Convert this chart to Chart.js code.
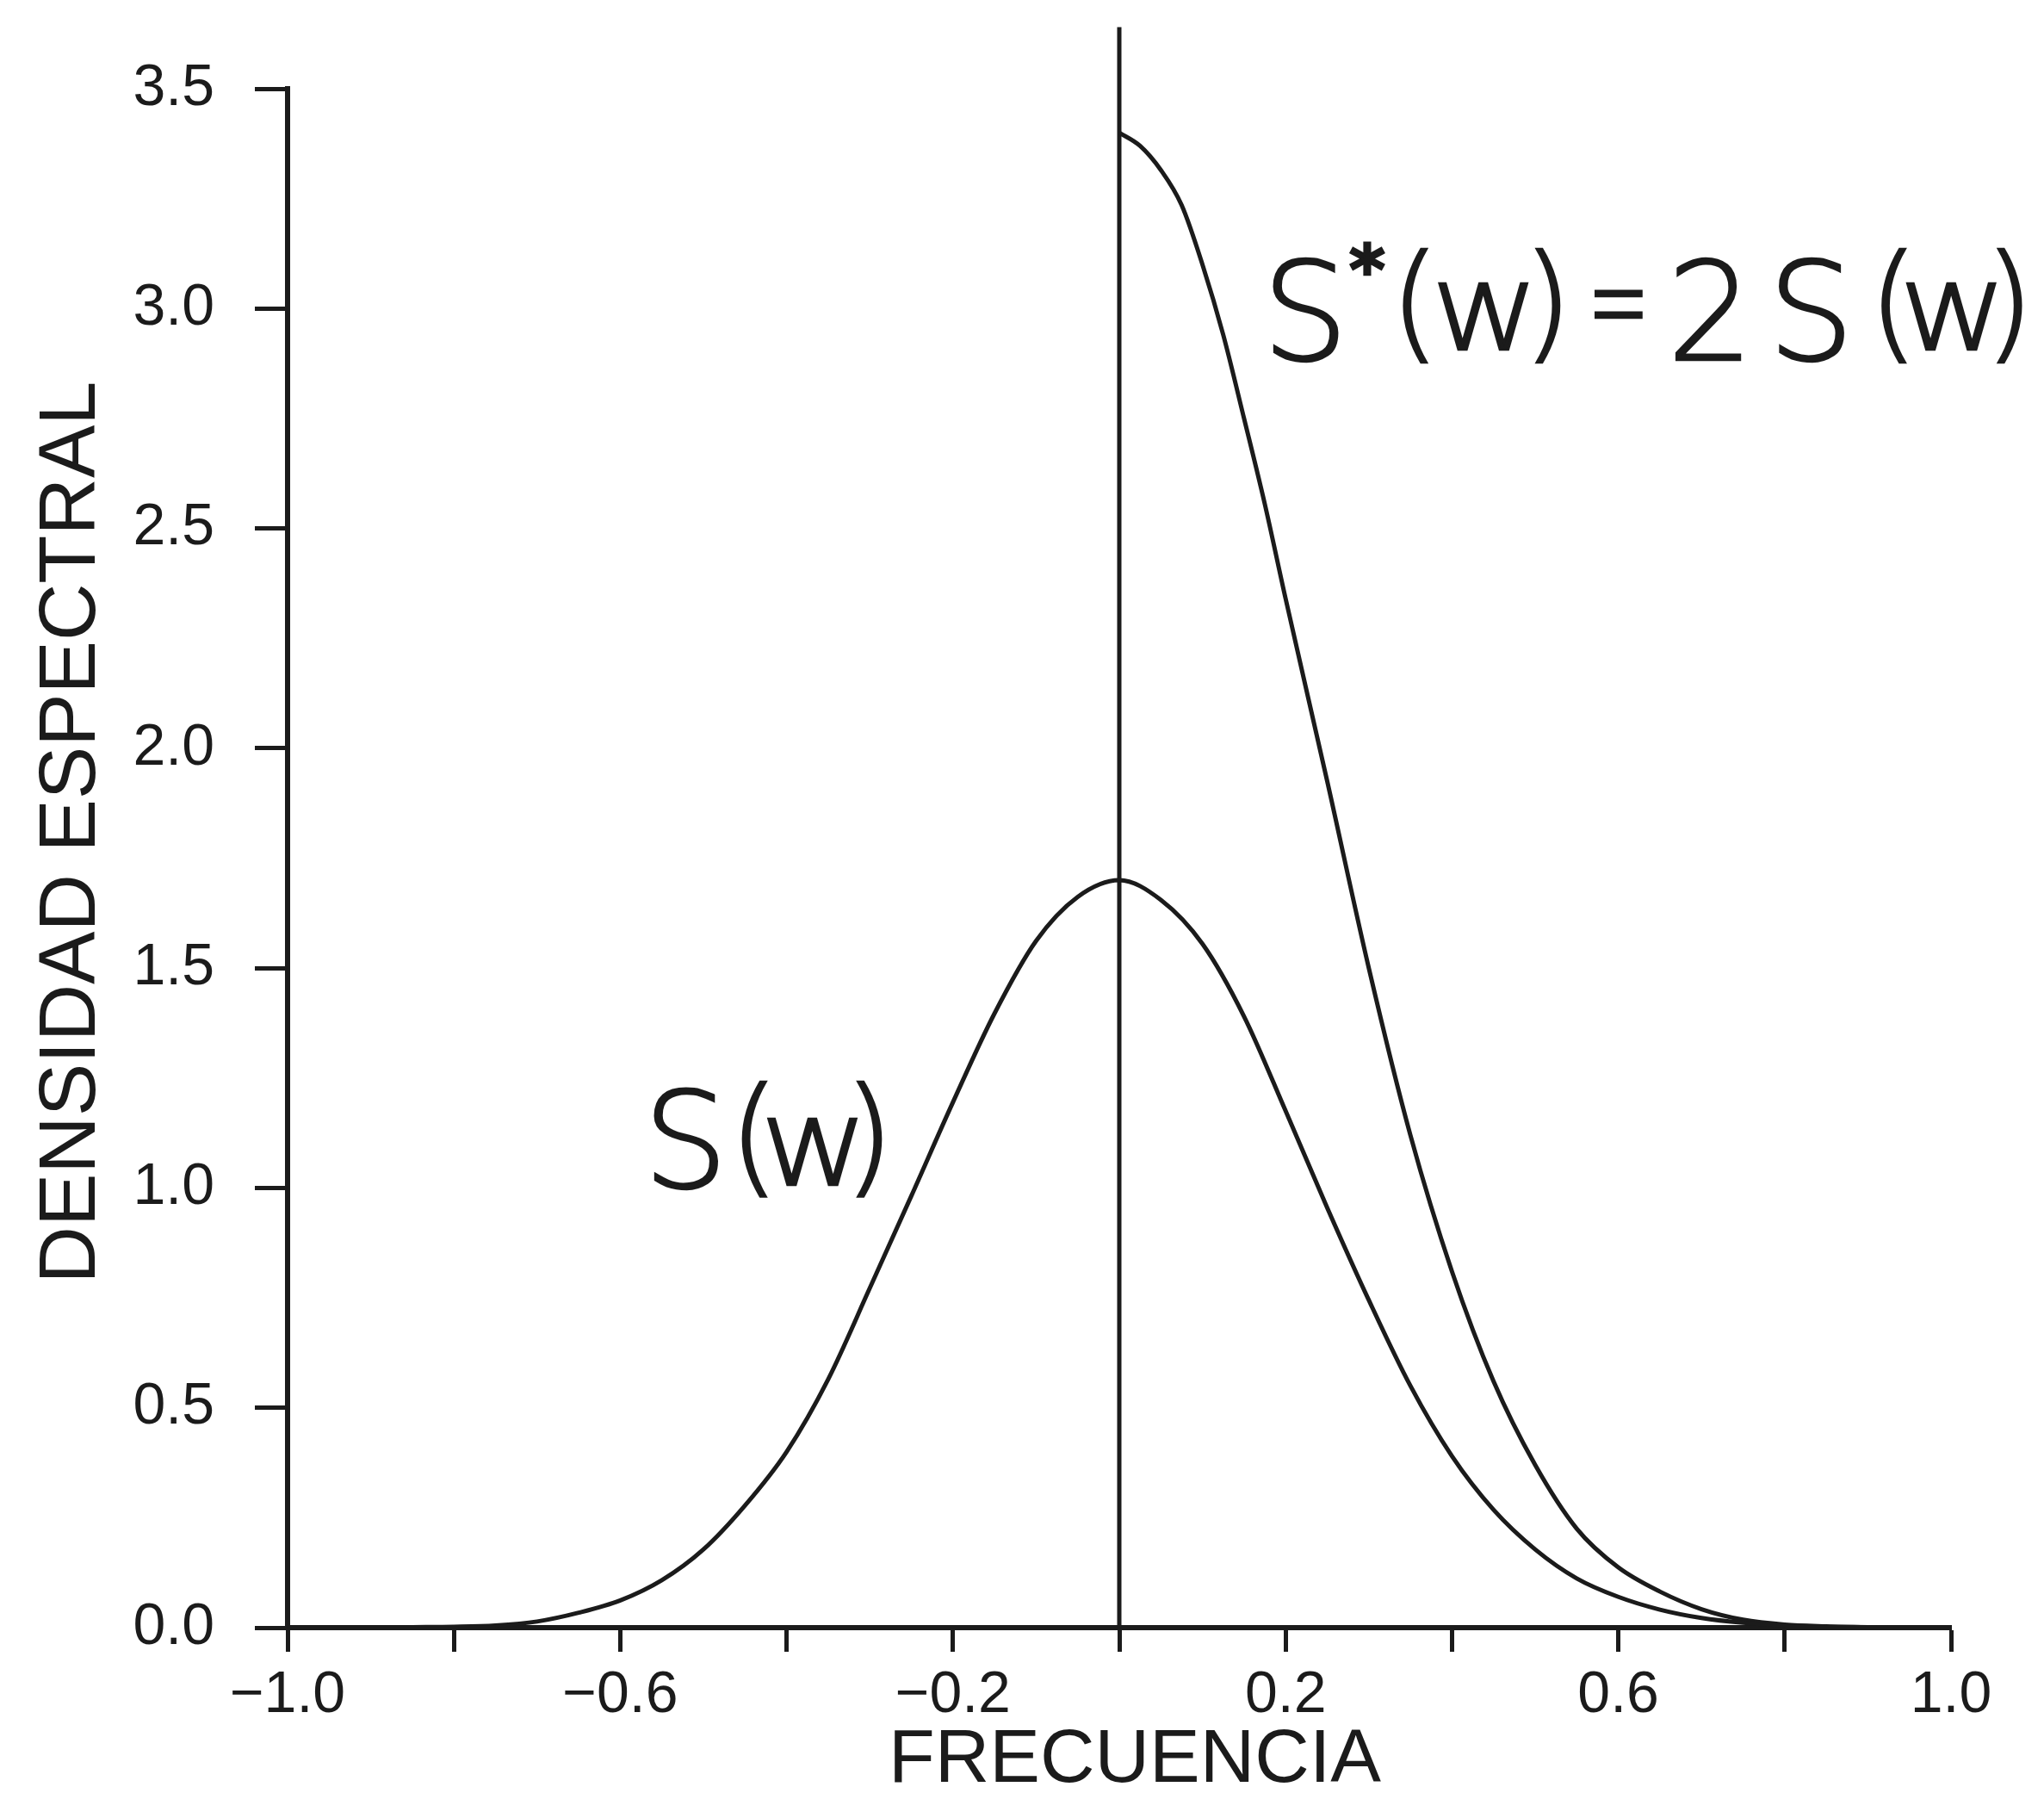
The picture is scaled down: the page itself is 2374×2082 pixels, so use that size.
<!DOCTYPE html>
<html>
<head>
<meta charset="utf-8">
<script src="https://cdn.jsdelivr.net/npm/chart.js@4.4.0/dist/chart.umd.min.js"></script>
<style>
  html, body { margin: 0; padding: 0; background: #fff; }
  canvas { display: block; }
</style>
</head>
<body>
<canvas id="spectrumChart" width="2374" height="2082"></canvas>
<script>
// S(w)
const freqS = [-1.00, -0.95, -0.90, -0.85, -0.80, -0.75, -0.70, -0.65, -0.60, -0.55,
               -0.50, -0.45, -0.40, -0.35, -0.30, -0.25, -0.20, -0.15, -0.10, -0.05,
                0.00,  0.05,  0.10,  0.15,  0.20,  0.25,  0.30,  0.35,  0.40,  0.45,
                0.50,  0.55,  0.60,  0.65,  0.70,  0.75,  0.80,  0.85,  0.90,  0.95, 1.00];
const densS = [0, 0, 0, 0.001, 0.002, 0.005, 0.014, 0.034, 0.062, 0.108,
               0.178, 0.278, 0.40, 0.565, 0.772, 0.982, 1.195, 1.397, 1.562, 1.662,
               1.70, 1.655, 1.555, 1.39, 1.175, 0.955, 0.745, 0.55, 0.39, 0.268,
               0.178, 0.112, 0.07, 0.041, 0.022, 0.011, 0.005, 0.002, 0.001, 0, 0];

// S*(w) = 2 S(w), only for w >= 0
const freqSStar = [0.00, 0.025, 0.05, 0.075, 0.10, 0.125, 0.15, 0.175, 0.20, 0.25, 0.30, 0.35,
                   0.40, 0.45, 0.50, 0.55, 0.60, 0.65, 0.70, 0.75, 0.80, 0.85, 0.90, 0.95, 1.00];
const densSStar = [3.40, 3.37, 3.315, 3.235, 3.10, 2.94, 2.75, 2.555, 2.34, 1.925, 1.50, 1.12,
                   0.81, 0.56, 0.37, 0.225, 0.137, 0.082, 0.042, 0.018, 0.007, 0.003, 0.001, 0, 0];

// vertical line at w = 0
const zeroFreq = [0, 0];
const zeroDens = [0, 3.64];

// axis labels
const xTickValues = [-1.0, -0.6, -0.2, 0.2, 0.6, 1.0];
const xTickLabels = ['\u22121.0', '\u22120.6', '\u22120.2', '0.2', '0.6', '1.0'];
const yTickLabels = ['0.0', '0.5', '1.0', '1.5', '2.0', '2.5', '3.0', '3.5'];
const xTitle = 'FRECUENCIA';
const yTitle = 'DENSIDAD ESPECTRAL';

// curve labels, anchored in data units (left edge of ink, baseline)
const labelS = { w: -0.559, d: 1.0 };
const labelSStar = { w: 0.186, d: 2.883 };

const toPoints = (xs, ys) => xs.map((x, i) => ({ x: x, y: ys[i] }));

const ink = '#1b1b1b';
const sansFamily = '"Liberation Sans", Arial, sans-serif';
const tickFont = { family: sansFamily, size: 68 };

// hand-lettered look: each glyph placed by its ink box, gaps shared out to fit a width
function drawLettering(ctx, glyphs, left, baseline, targetWidth) {
    let inkTotal = 0;
    let gapUnits = 0;
    glyphs.forEach((g, i) => {
        ctx.font = `${g.weight || 200} ${g.size}px "DejaVu Sans", sans-serif`;
        const m = ctx.measureText(g.text);
        g.inkLeft = m.actualBoundingBoxLeft;
        g.inkW = (m.actualBoundingBoxLeft + m.actualBoundingBoxRight) * (g.sx || 1);
        inkTotal += g.inkW;
        if (i > 0) gapUnits += g.gap;
    });
    const unit = gapUnits > 0 ? (targetWidth - inkTotal) / gapUnits : 0;
    let cx = left;
    glyphs.forEach((g, i) => {
        if (i > 0) cx += unit * g.gap;
        ctx.save();
        ctx.translate(cx, baseline - (g.rise || 0));
        ctx.scale(g.sx || 1, 1);
        ctx.font = `${g.weight || 200} ${g.size}px "DejaVu Sans", sans-serif`;
        ctx.fillText(g.text, g.inkLeft, 0);
        ctx.lineWidth = 2.5;
        ctx.strokeText(g.text, g.inkLeft, 0);
        ctx.restore();
        cx += g.inkW;
    });
}

const curveLabels = {
    id: 'curveLabels',
    afterDatasetsDraw(chart) {
        const { ctx, scales: { x, y } } = chart;
        ctx.save();
        ctx.fillStyle = ink;
        ctx.strokeStyle = ink;
        ctx.textBaseline = 'alphabetic';
        ctx.textAlign = 'left';

        drawLettering(ctx, [
            { text: 'S', size: 155 },
            { text: '(', size: 150, rise: 9, gap: 29 },
            { text: 'w', size: 140, rise: 3, sx: 1.1, gap: 1 },
            { text: ')', size: 150, rise: 9, gap: 1 }
        ], x.getPixelForValue(labelS.w), y.getPixelForValue(labelS.d), 264);

        drawLettering(ctx, [
            { text: 'S', size: 158 },
            { text: '*', size: 80, weight: 700, rise: 77, gap: 14 },
            { text: '(', size: 148, rise: 16, gap: 22 },
            { text: 'w', size: 140, rise: 12, sx: 1.1, gap: 13 },
            { text: ')', size: 148, rise: 16, gap: 10 },
            { text: '=', size: 158, rise: 15, sx: 0.55, gap: 40 },
            { text: '2', size: 158, gap: 38 },
            { text: 'S', size: 158, gap: 45 },
            { text: '(', size: 148, rise: 16, gap: 44 },
            { text: 'w', size: 140, rise: 12, sx: 1.1, gap: 1 },
            { text: ')', size: 148, rise: 16, gap: 3 }
        ], x.getPixelForValue(labelSStar.w), y.getPixelForValue(labelSStar.d), 868);

        ctx.restore();
    }
};

// axis titles, placed a little off-centre as in the original
const axisTitles = {
    id: 'axisTitles',
    afterDraw(chart) {
        const { ctx, chartArea } = chart;
        ctx.save();
        ctx.fillStyle = ink;
        ctx.textAlign = 'center';
        ctx.textBaseline = 'alphabetic';

        ctx.font = `88px ${sansFamily}`;
        ctx.fillText(xTitle, (chartArea.left + chartArea.right) / 2 + 18, chart.height - 13);

        ctx.font = `92px ${sansFamily}`;
        ctx.translate(110, (chartArea.top + chartArea.bottom) / 2 - 30);
        ctx.rotate(-Math.PI / 2);
        ctx.fillText(yTitle, 0, 0);
        ctx.restore();
    }
};

const ctx = document.getElementById('spectrumChart').getContext('2d');

new Chart(ctx, {
    type: 'line',
    data: {
        datasets: [
            {
                label: 'S(w)',
                data: toPoints(freqS, densS),
                borderColor: ink,
                borderWidth: 5,
                pointRadius: 0,
                cubicInterpolationMode: 'monotone',
                fill: false
            },
            {
                label: 'S*(w) = 2S(w)',
                data: toPoints(freqSStar, densSStar),
                borderColor: ink,
                borderWidth: 5,
                pointRadius: 0,
                cubicInterpolationMode: 'monotone',
                fill: false
            },
            {
                label: 'w = 0',
                data: toPoints(zeroFreq, zeroDens),
                borderColor: ink,
                borderWidth: 5,
                pointRadius: 0,
                tension: 0,
                clip: false
            }
        ]
    },
    options: {
        responsive: false,
        animation: false,
        devicePixelRatio: 1,
        layout: { padding: { left: 0, top: 103, right: 108, bottom: 0 } },
        plugins: {
            legend: { display: false },
            tooltip: { enabled: false }
        },
        scales: {
            x: {
                type: 'linear',
                min: -1,
                max: 1,
                afterFit: (scale) => { scale.height = 192; },
                border: { display: true, color: ink, width: 6 },
                grid: {
                    drawOnChartArea: false,
                    drawTicks: true,
                    tickLength: 28,
                    tickWidth: 5,
                    color: ink
                },
                ticks: {
                    stepSize: 0.2,
                    autoSkip: false,
                    maxRotation: 0,
                    padding: 10,
                    color: ink,
                    font: tickFont,
                    callback: (value) => {
                        const i = xTickValues.findIndex(v => Math.abs(v - value) < 1e-6);
                        return i >= 0 ? xTickLabels[i] : '';
                    }
                },
                title: { display: false }
            },
            y: {
                min: 0,
                max: 3.5,
                afterFit: (scale) => { scale.width = 334; },
                border: { display: true, color: ink, width: 6 },
                grid: {
                    drawOnChartArea: false,
                    drawTicks: true,
                    tickLength: 38,
                    tickWidth: 5,
                    color: ink
                },
                ticks: {
                    stepSize: 0.5,
                    autoSkip: false,
                    padding: 47,
                    color: ink,
                    font: tickFont,
                    callback: (value) => yTickLabels[Math.round(value / 0.5)]
                },
                title: { display: false }
            }
        }
    },
    plugins: [curveLabels, axisTitles]
});
</script>
</body>
</html>
